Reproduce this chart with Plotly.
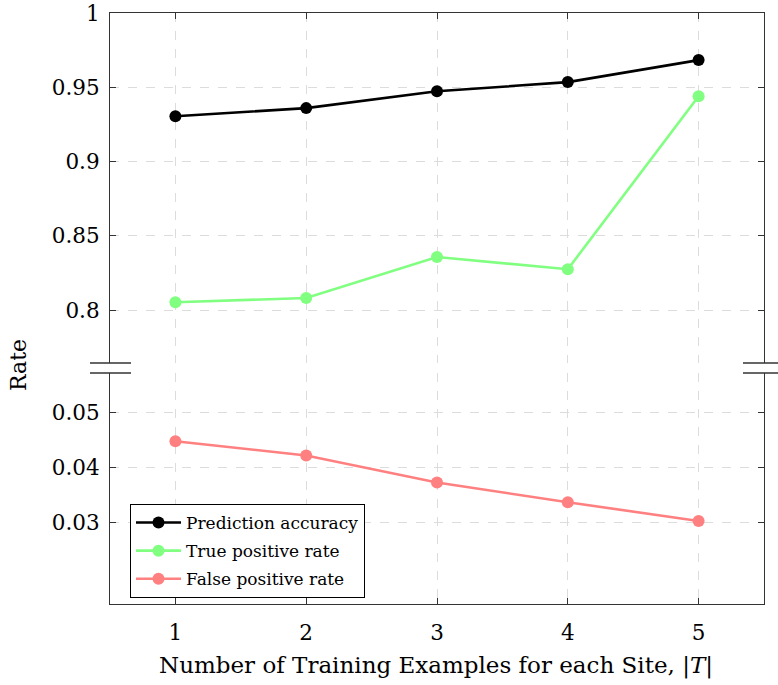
import plotly.graph_objects as go

x_vals = [1, 2, 3, 4, 5]
accuracy = [0.9305, 0.9360, 0.9473, 0.9535, 0.9683]
tpr = [0.8054, 0.8082, 0.8358, 0.8276, 0.9440]
fpr = [0.0447, 0.0421, 0.0372, 0.0336, 0.0302]

top_ticks = [0.8, 0.85, 0.9, 0.95, 1.0]
top_text = ["0.8", "0.85", "0.9", "0.95", "1"]
bot_ticks = [0.03, 0.04, 0.05]
bot_text = ["0.03", "0.04", "0.05"]

FONT = "DejaVu Serif"
W, H = 778, 685
L, R, T, B = 110, 14, 13, 81
pw, ph = W - L - R, H - T - B
top_bottom_px = 363
bot_top_px = 373
top_dom = [(H - B - top_bottom_px) / ph, 1.0]
bot_dom = [0.0, (H - B - bot_top_px) / ph]

fig = go.Figure()
fig.add_trace(go.Scatter(x=x_vals, y=accuracy, name="Prediction accuracy", xaxis="x2", yaxis="y2",
                         mode="lines+markers", line=dict(color="black", width=2.6),
                         marker=dict(size=12, color="black"), legendgroup="a"))
fig.add_trace(go.Scatter(x=x_vals, y=tpr, name="True positive rate", xaxis="x2", yaxis="y2",
                         mode="lines+markers", line=dict(color="#80ff80", width=2.6),
                         marker=dict(size=12, color="#80ff80"), legendgroup="b"))
fig.add_trace(go.Scatter(x=x_vals, y=fpr, name="False positive rate", xaxis="x", yaxis="y",
                         mode="lines+markers", line=dict(color="#ff8080", width=2.6),
                         marker=dict(size=12, color="#ff8080"), legendgroup="c"))

grid = dict(showgrid=True, gridcolor="#dcdcdc", griddash="dash", gridwidth=1)
axline = dict(showline=True, linecolor="#333333", linewidth=1.2, ticks="inside",
              ticklen=6, tickcolor="#333333", zeroline=False, automargin=False)

fig.update_layout(
    width=W, height=H,
    margin=dict(l=L, r=R, t=T, b=B, autoexpand=False),
    paper_bgcolor="white", plot_bgcolor="white",
    font=dict(family=FONT, size=21.5, color="black"),
    xaxis=dict(range=[0.5, 5.5], anchor="y", tickvals=x_vals, ticktext=[str(v) for v in x_vals],
               mirror=False, ticklabelstandoff=9, **grid, **axline),
    xaxis2=dict(range=[0.5, 5.5], anchor="y2", side="top", matches="x", tickvals=x_vals,
                showticklabels=False, mirror=False, **grid, **axline),
    yaxis=dict(domain=bot_dom, range=[0.0151, 0.0571], tickvals=bot_ticks, ticktext=bot_text,
               anchor="x", mirror="ticks", ticklabelstandoff=5, **grid, **axline),
    yaxis2=dict(domain=top_dom, range=[0.7645, 1.0], tickvals=top_ticks, ticktext=top_text,
                anchor="x2", mirror="ticks", ticklabelstandoff=5, **grid, **axline),
    showlegend=True,
    legend=dict(x=(130 - L) / pw, y=(H - B - 598) / ph, xanchor="left", yanchor="bottom",
                bordercolor="black", borderwidth=1, bgcolor="white", itemwidth=45,
                font=dict(family=FONT, size=17), traceorder="grouped", tracegroupgap=3),
)

fig.add_annotation(text="Number of Training Examples for each Site, |<i>T</i>|", xref="paper", yref="paper",
                   x=(436 - L) / pw, y=-(665 - (H - B)) / ph, showarrow=False,
                   font=dict(family=FONT, size=23), xanchor="center", yanchor="middle")
fig.add_annotation(text="Rate", xref="paper", yref="paper", textangle=-90,
                   x=-(L - 18) / pw, y=(H - B - 365) / ph, showarrow=False,
                   font=dict(family=FONT, size=22), xanchor="center", yanchor="middle")

for yy in (top_bottom_px, bot_top_px):
    yp = (H - B - yy) / ph
    for x0, x1 in ((90, 131), (743, 790)):
        fig.add_shape(type="line", xref="paper", yref="paper",
                      x0=(x0 - L) / pw, x1=(x1 - L) / pw, y0=yp, y1=yp,
                      line=dict(color="#333333", width=1.5))

fig.write_html("out.html")
